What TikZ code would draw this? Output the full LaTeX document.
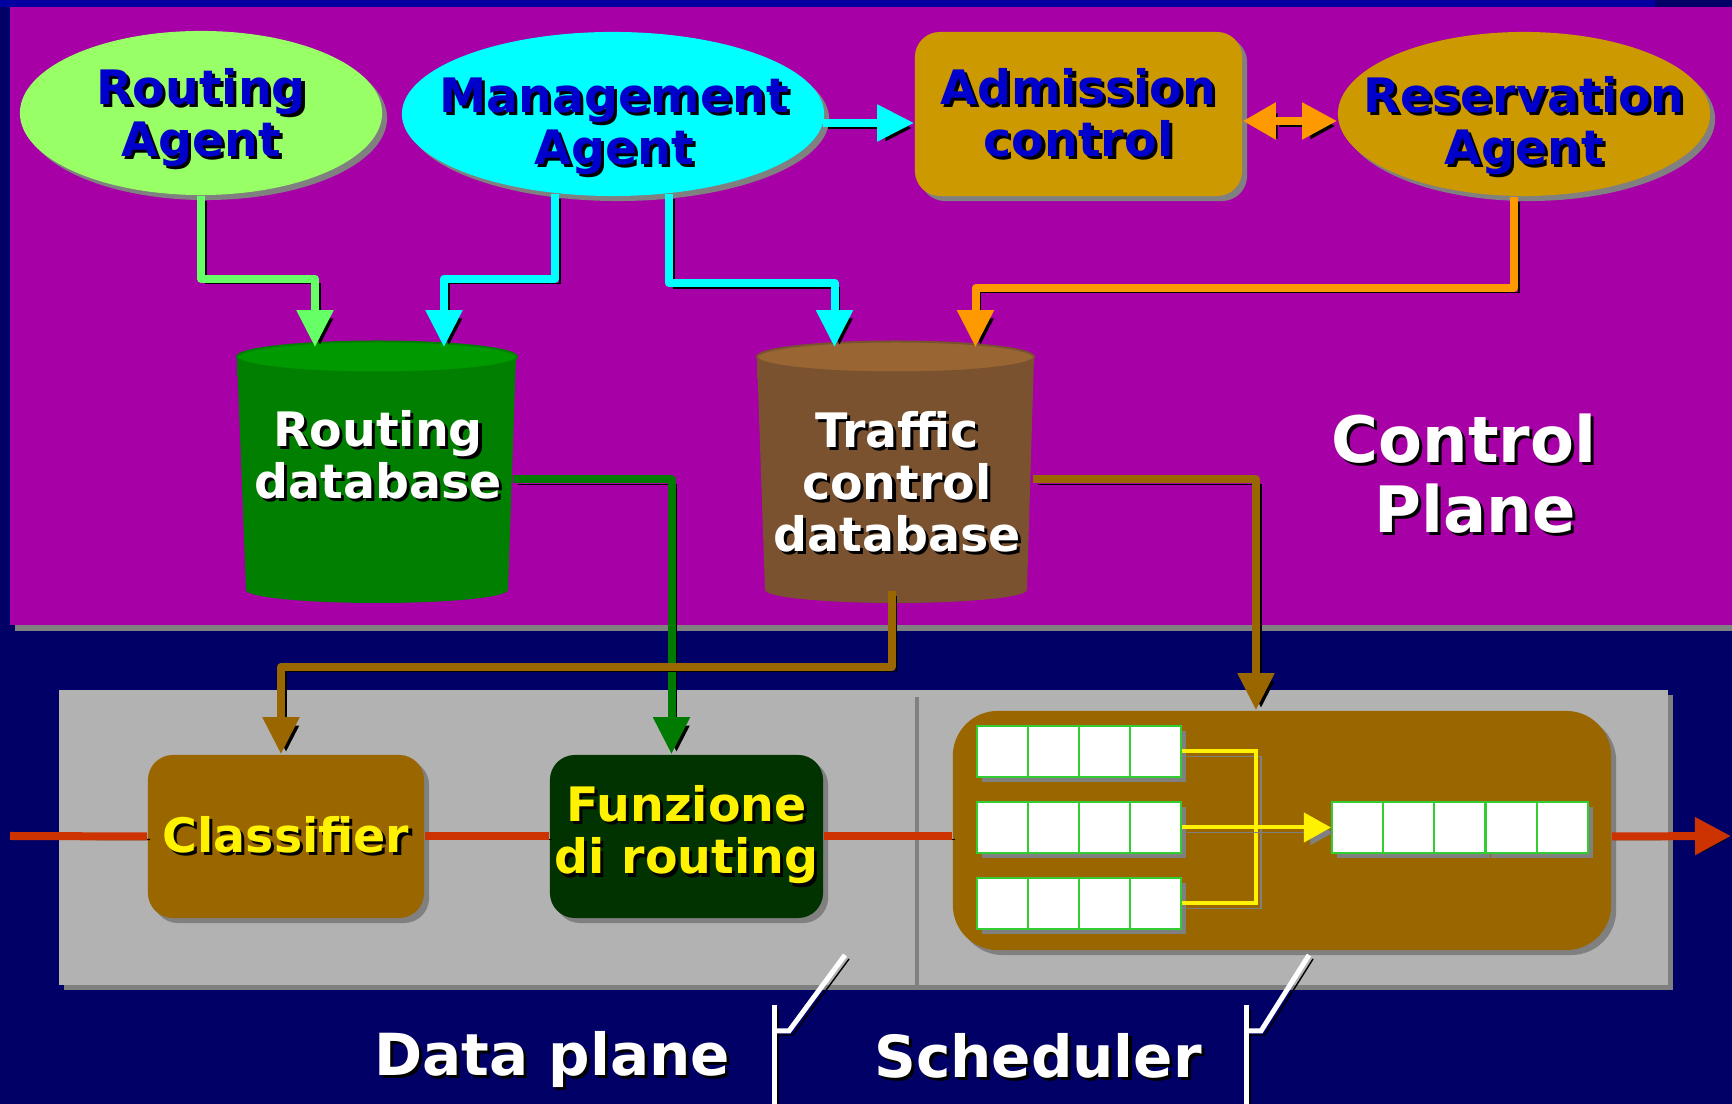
\documentclass[tikz,border=0pt]{standalone}
\usepackage{fontspec}
\setmainfont{DejaVu Sans}
\usetikzlibrary{arrows.meta, shapes.geometric, shadows, calc}

\definecolor{navy}{HTML}{000066}
\definecolor{topblue}{HTML}{0000A0}
\definecolor{plum}{HTML}{A600A6}
\definecolor{panel}{HTML}{B2B2B2}
\definecolor{shgray}{HTML}{808080}
\definecolor{agentgreen}{HTML}{99FF66}
\definecolor{aqua}{HTML}{00FFFF}
\definecolor{gold}{HTML}{CC9900}
\definecolor{tblue}{HTML}{0000CC}
\definecolor{lgreen}{HTML}{66FF66}
\definecolor{orng}{HTML}{FF9900}
\definecolor{dgreen}{HTML}{007A00}
\definecolor{brwn}{HTML}{996600}
\definecolor{fred}{HTML}{CC3300}
\definecolor{frfill}{HTML}{003300}
\definecolor{qgreen}{HTML}{33CC33}
\definecolor{dbgedge}{HTML}{007F00}
\definecolor{dbgmid}{HTML}{005800}
\definecolor{dbgtop}{HTML}{009900}
\definecolor{dbbedge}{HTML}{7A5230}
\definecolor{dbbmid}{HTML}{563820}
\definecolor{dbbtop}{HTML}{996633}

\newcommand{\sh}[1]{\rlap{\kern0.9pt\raisebox{-0.9pt}{\color{black}#1}}#1}

\tikzset{
  every node/.style={font=\bfseries\fontsize{13.5}{14.8}\selectfont, align=center, inner sep=0pt},
  grayshadow/.style={drop shadow={shadow xshift=0.05cm, shadow yshift=-0.05cm, fill=shgray, opacity=1}},
  agent/.style={ellipse, minimum height=1.64cm, grayshadow},
  box/.style={rectangle, rounded corners=0.25cm, grayshadow},
  dbbody/.style={rectangle, minimum height=2.33cm},
  cell/.style={rectangle, draw=qgreen, fill=white, line width=0.02cm, minimum width=0.51cm, minimum height=0.51cm, grayshadow},
  conn/.style={line width=0.08cm, draw=#1, line join=round, -{Triangle[length=0.37cm, width=0.35cm]},
    preaction={draw=black, transform canvas={shift={(0.05cm,-0.05cm)}}}},
  flow/.style={line width=0.08cm, draw=fred, preaction={draw=black, transform canvas={shift={(0.03cm,-0.03cm)}}}},
  ylw/.style={line width=0.04cm, draw=yellow, preaction={draw=shgray, transform canvas={shift={(0.05cm,-0.05cm)}}}},
  callout/.style={line width=0.05cm, draw=white, preaction={draw=black, transform canvas={shift={(0.04cm,-0.04cm)}}}}
}

\begin{document}
\begin{tikzpicture}[x=0.01cm, y=-0.01cm]
  \useasboundingbox (0,0) rectangle (1732,1104);
  % Background
  \fill[navy] (0,0) rectangle (1732,1104);
  \fill[topblue] (0,0) rectangle (1655,7);
  \fill[shgray] (15,625) rectangle (1740,631);
  \fill[plum] (10,7) rectangle (1740,625);
  \fill[shgray] (64,695) rectangle (1673,990);
  \fill[panel] (59,690) rectangle (1668,985);
  \draw[shgray, line width=0.04cm] (917,697) -- (917,985);

  % Databases
  \shade[left color=dbgedge, middle color=dbgmid, right color=dbgedge]
    (237,357) -- (246,590) arc (180:0:131 and 13) -- (516,357) -- cycle;
  \filldraw[fill=dbgtop, draw=dbgedge, line width=0.02cm] (377,357) ellipse (140 and 15.5);
  \shade[left color=dbbedge, middle color=dbbmid, right color=dbbedge]
    (757,357) -- (765,590) arc (180:0:131 and 13) -- (1034,357) -- cycle;
  \filldraw[fill=dbbtop, draw=dbbedge, line width=0.02cm] (895.5,357) ellipse (138.5 and 15.5);
  \node[dbbody, minimum width=2.79cm] (rdb) at (377,473.5) {};
  \node[dbbody, minimum width=2.77cm] (tdb) at (895.5,473.5) {};
  \node[text=white] (rdbt) at (378,456) {\sh{Routing}\\\sh{database}};
  \node[text=white] (tdbt) at (897,483) {\sh{Traffic}\\\sh{control}\\\sh{database}};

  % Control plane
  \node[agent, minimum width=3.62cm, fill=agentgreen] (ra) at (201,113) {};
  \node[agent, minimum width=4.22cm, fill=aqua] (ma) at (613,114) {};
  \node[box, minimum width=3.27cm, minimum height=1.64cm, fill=gold, text=tblue] (ac) at (1078.5,114) {\sh{Admission}\\\sh{control}};
  \node[agent, minimum width=3.72cm, fill=gold] (rsv) at (1524,114) {};
  \node[text=tblue] (rat) at ($(ra)+(0,6)$) {\sh{Routing}\\\sh{Agent}};
  \node[text=tblue] (mat) at ($(ma)+(1,14)$) {\sh{Management}\\\sh{Agent}};
  \node[text=tblue] (rsvt) at ($(rsv)+(0,13)$) {\sh{Reservation}\\\sh{Agent}};
  \node[text=white, font=\bfseries\fontsize{18.2}{20}\selectfont] (cp) at (1464,475) {\sh{Control}\\\hspace*{0.22cm}\sh{Plane}};

  % Data plane
  \node[box, minimum width=2.76cm, minimum height=1.63cm, fill=brwn, text=yellow] (cls) at (286,836.5) {\sh{Classifier}};
  \node[box, minimum width=2.73cm, minimum height=1.63cm, fill=frfill, text=yellow] (fr) at (686.5,836.5) {\sh{Funzione}\\\sh{di routing}};
  \node[box, rounded corners=0.45cm, minimum width=6.58cm, minimum height=2.39cm, fill=brwn] (sch) at (1282,830.5) {};
  \foreach \r/\y in {1/751.5, 2/827.5, 3/903.5}
    \foreach \c in {1,...,4}
      \node[cell] (q\r\c) at ({951.5+51*\c},\y) {};
  \foreach \c in {1,...,5}
    \node[cell] (o\c) at ({1306.3+51.2*\c},827.5) {};
  \coordinate (mrg) at (1256,827.5);
  \draw[ylw] (q14.east) -| (mrg);
  \draw[ylw] (q34.east) -| (mrg);
  \draw[ylw, -{Triangle[length=0.27cm, width=0.29cm]}] (q24.east) -- (o1.west);

  \node[text=white, font=\bfseries\fontsize{16.5}{18}\selectfont] (dp) at (552,1061) {\sh{Data plane}};
  \node[text=white, font=\bfseries\fontsize{16.5}{18}\selectfont] (schl) at (1038,1057) {\sh{Scheduler}};

  % Arrows in the control plane
  \draw[conn=lgreen] (ra.south) -- ++(0,83) -| ($(rdb.north)+(-62,-9)$);
  \draw[conn=aqua] (ma.234) -- ++(0,85) -| ($(rdb.north)+(67,-9)$);
  \draw[conn=aqua] (ma.305) -- ++(0,89) -| ($(tdb.north)+(-61,-9)$);
  \draw[conn=orng] ($(rsv.south)+(-10,0)$) -- ++(0,91) -| ($(tdb.north)+(80,-9)$);
  \draw[conn=aqua] ($(ma.east)+(-2,9)$) -- ($(ac.west)+(0,9)$);
  \draw[conn=orng, {Triangle[length=0.33cm, width=0.35cm]}-{Triangle[length=0.35cm, width=0.35cm]}]
    ($(ac.east)+(0,7)$) -- ($(rsv.west)+(0,7)$);

  % Arrows down to the data plane
  \draw[conn=dgreen] ($(rdb.east)+(-4,6)$) -| ($(fr.north)+(-15,0)$);
  \draw[conn=brwn] ($(tdb.east)+(-2,6)$) -| ($(sch.north)+(-26,0)$);
  \draw[conn=brwn] ($(tdb.south)+(-4,0)$) -- ++(0,76) -| ($(cls.north)+(-5,0)$);

  % Packet flow
  \coordinate (in) at (10,836);
  \coordinate (out) at (1731,836);
  \draw[flow] (in) -- (cls.west);
  \draw[flow] (cls.east) -- (fr.west);
  \draw[flow] (fr.east) -- (sch.west |- fr.east);
  \draw[flow, -{Triangle[length=0.36cm, width=0.36cm]}] (sch.east |- fr.east) -- (out);

  % Callouts
  \draw[callout] (774,1110) -- (774,1005);
  \draw[callout] (774,1031) -- (789,1031) -- (845,955);
  \draw[callout] (1246,1110) -- (1246,1005);
  \draw[callout] (1246,1031) -- (1261,1031) -- (1309,955);
\end{tikzpicture}
\end{document}
